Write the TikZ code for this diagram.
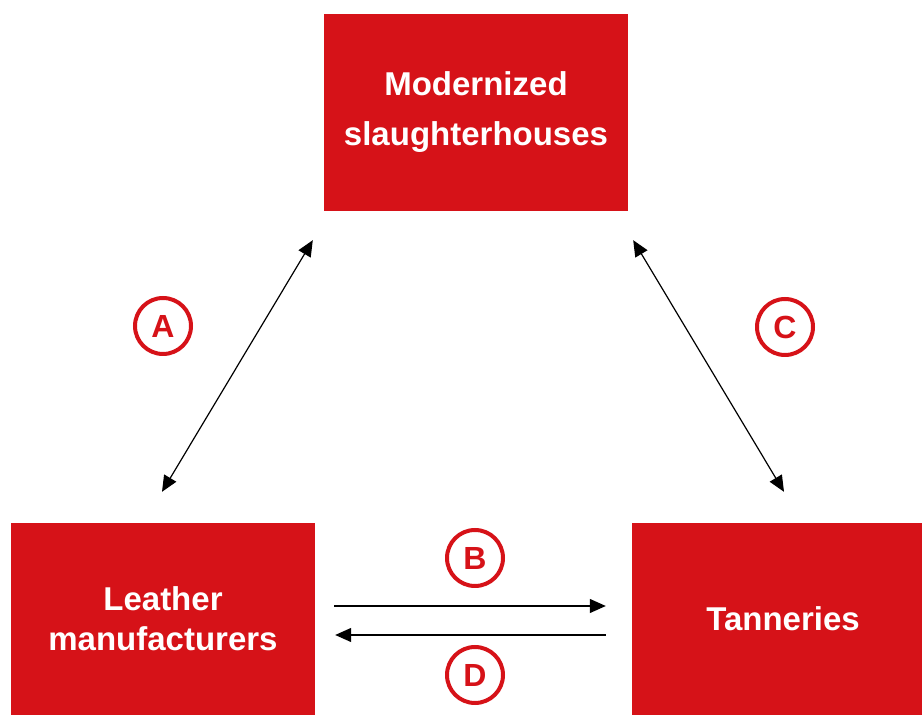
\documentclass[tikz,border=0pt]{standalone}
\usepackage{fontspec}
\setmainfont{Liberation Sans}
\usepackage{xcolor}
\usepackage{tikz}
\usetikzlibrary{arrows.meta, positioning}
\definecolor{boxred}{RGB}{214,18,24}
\tikzset{
  box/.style={rectangle, fill=boxred, text=white, align=center, font=\bfseries\fontsize{33}{50}\selectfont},
  tag/.style={circle, draw=boxred, line width=4pt, minimum size=56pt, inner sep=0pt, text=boxred, font=\bfseries\fontsize{32}{36}\selectfont},
  arrow/.style={-{Triangle[length=16pt, width=14pt]}, line width=1.2pt},
  twoway/.style={{Triangle[length=16pt, width=14pt]}-{Triangle[length=16pt, width=14pt]}, line width=1.2pt},
}

\begin{document}
\begin{tikzpicture}[x=1pt, y=1pt]
    \useasboundingbox (0,0) rectangle (922,715);
    \node[box, minimum width=304pt, minimum height=197pt] (slaughter) at (476,602.5) {Modernized\\slaughterhouses};
    \node[box, minimum width=304pt, minimum height=192pt, font=\bfseries\fontsize{33}{40}\selectfont] (leather) at (163,96) {Leather\\manufacturers};
    \node[box, minimum width=290pt, minimum height=192pt] (tanneries) at (777,96) {\hspace*{12pt}Tanneries};
    \node[tag] (tagA) at (163,389) {A};
    \node[tag] (tagB) at (475,157) {B};
    \node[tag] (tagC) at (785,388) {C};
    \node[tag] (tagD) at (475,40) {D};
    \draw[twoway] ([shift={(-1,31)}]leather.north) -- ([shift={(-11,-29)}]slaughter.south west);
    \draw[twoway] ([shift={(5,-29)}]slaughter.south east) -- ([shift={(7,31)}]tanneries.north);
    \draw[arrow] ([shift={(19,13)}]leather.east) -- ([shift={(-26,13)}]tanneries.west);
    \draw[arrow] ([shift={(-26,-16)}]tanneries.west) -- ([shift={(20,-16)}]leather.east);
  \end{tikzpicture}
\end{document}
